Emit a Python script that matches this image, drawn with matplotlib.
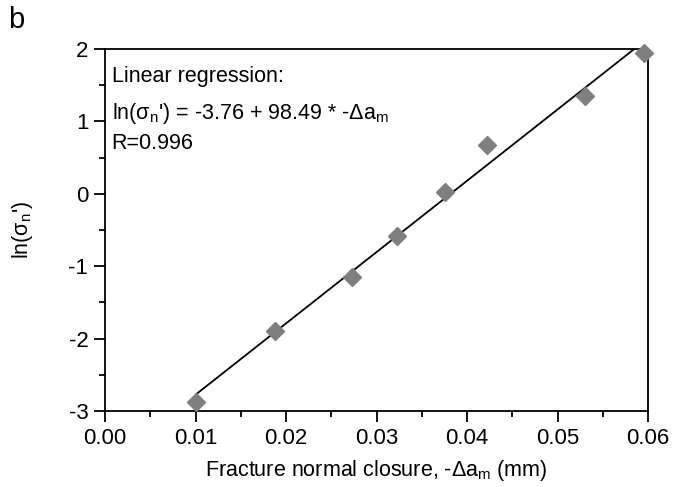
import matplotlib.pyplot as plt
import numpy as np
from matplotlib.ticker import MultipleLocator, FormatStrFormatter

plt.rcParams['font.family'] = ['Liberation Sans', 'DejaVu Sans']
plt.rcParams['mathtext.fontset'] = 'custom'
plt.rcParams['mathtext.rm'] = 'Liberation Sans'
plt.rcParams['mathtext.it'] = 'Liberation Sans'
plt.rcParams['mathtext.default'] = 'rm'
plt.rcParams['axes.unicode_minus'] = False

# data
closure = [0.0100, 0.0188, 0.0273, 0.0323, 0.0376, 0.0422, 0.0530, 0.0596]
ln_sigma = [-2.87, -1.90, -1.15, -0.58, 0.02, 0.67, 1.35, 1.94]

# regression
intercept = -3.76
slope = 98.49
fit_x = np.array([0.0101, 0.06])
fit_y = intercept + slope * fit_x

fig = plt.figure(figsize=(6.85, 4.87), dpi=100)
ax = fig.add_axes([0.1533, 0.156, 0.7927, 0.7434])

ax.plot(fit_x, fit_y, color='black', lw=1.3, zorder=2)
ax.plot(closure, ln_sigma, linestyle='none', marker='D', markersize=9.5,
        color='#7f7f7f', zorder=3, clip_on=False)

ax.set_xlim(0, 0.06)
ax.set_ylim(-3, 2)
ax.xaxis.set_major_locator(MultipleLocator(0.01))
ax.xaxis.set_minor_locator(MultipleLocator(0.005))
ax.xaxis.set_major_formatter(FormatStrFormatter('%.2f'))
ax.yaxis.set_major_locator(MultipleLocator(1))
ax.yaxis.set_minor_locator(MultipleLocator(0.5))
ax.tick_params(which='major', direction='out', length=8, width=1.3,
               labelsize=16, pad=4)
ax.tick_params(which='minor', direction='out', length=4, width=1.3)
for s in ax.spines.values():
    s.set_linewidth(1.3)

ax.set_xlabel(r"Fracture normal closure, -$\Delta$a$_\mathrm{m}$ (mm)",
              fontsize=15.5, labelpad=7)
ax.set_ylabel(r"ln($\sigma_\mathrm{n}$')", fontsize=15.5, labelpad=24)

ax.text(0.012, 0.925, "Linear regression:", transform=ax.transAxes,
        fontsize=15.5, va='center', ha='left')
ax.text(0.012, 0.822, r"ln($\sigma_\mathrm{n}$') = -3.76 + 98.49 * -$\Delta$a$_\mathrm{m}$",
        transform=ax.transAxes, fontsize=15.5, va='center', ha='left')
ax.text(0.012, 0.74, "R=0.996", transform=ax.transAxes,
        fontsize=15.5, va='center', ha='left')

fig.text(0.012, 0.958, "b", fontsize=21, va='center', ha='left')

fig.savefig("out.png", dpi=100)
